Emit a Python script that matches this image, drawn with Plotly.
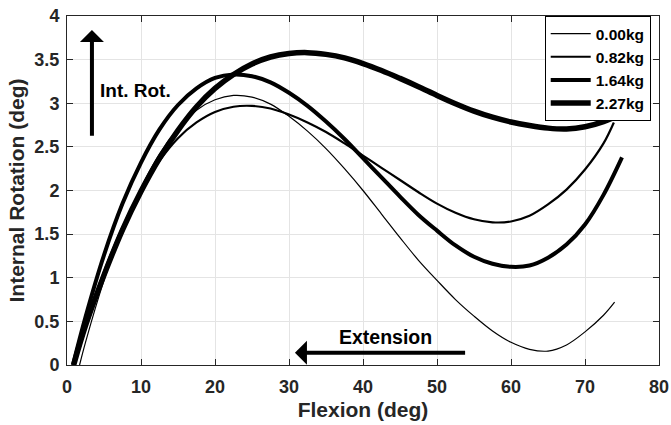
import plotly.graph_objects as go

# ---- data ----
x_000 = [1.7, 2.5, 5, 7.5, 10, 12.5, 15, 17.5, 20, 22.5, 25, 27.5, 30, 32.5, 35, 37.5, 40, 42.5, 45, 47.5, 50, 52.5, 55, 57.5, 60, 62.5, 65, 67.5, 70, 72.5, 74.0]
y_000 = [0.0, 0.26, 0.97, 1.56, 2.03, 2.42, 2.71, 2.92, 3.04, 3.09, 3.07, 2.99, 2.85, 2.68, 2.48, 2.25, 2.00, 1.73, 1.46, 1.20, 0.97, 0.75, 0.56, 0.39, 0.26, 0.18, 0.16, 0.23, 0.38, 0.57, 0.72]

x_082 = [0.9, 2.5, 5, 7.5, 10, 12.5, 15, 17.5, 20, 22.5, 25, 27.5, 30, 32.5, 35, 37.5, 40, 42.5, 45, 47.5, 50, 52.5, 55, 57.5, 60, 62.5, 65, 67.5, 70, 72.5, 73.9]
y_082 = [0.0, 0.46, 1.07, 1.58, 2.00, 2.34, 2.60, 2.78, 2.90, 2.96, 2.97, 2.94, 2.87, 2.78, 2.67, 2.54, 2.40, 2.26, 2.12, 1.98, 1.85, 1.745, 1.67, 1.635, 1.645, 1.71, 1.84, 2.01, 2.24, 2.54, 2.78]

x_164 = [0.8, 2.5, 5, 7.5, 10, 12.5, 15, 17.5, 20, 22.5, 25, 27.5, 30, 32.5, 35, 37.5, 40, 42.5, 45, 47.5, 50, 52.5, 55, 57.5, 60, 62.5, 65, 67.5, 70, 72.5, 75.0]
y_164 = [0.0, 0.55, 1.26, 1.85, 2.32, 2.70, 2.98, 3.17, 3.29, 3.33, 3.31, 3.24, 3.12, 2.97, 2.79, 2.59, 2.37, 2.15, 1.93, 1.72, 1.54, 1.37, 1.24, 1.16, 1.125, 1.14, 1.23, 1.38, 1.61, 1.95, 2.38]

x_227 = [0.9, 2.5, 5, 7.5, 10, 12.5, 15, 17.5, 20, 22.5, 25, 27.5, 30, 32.5, 35, 37.5, 40, 42.5, 45, 47.5, 50, 52.5, 55, 57.5, 60, 62.5, 65, 67.5, 70, 72.5, 75.6]
y_227 = [0.0, 0.45, 1.03, 1.55, 1.99, 2.37, 2.69, 2.96, 3.17, 3.33, 3.45, 3.53, 3.57, 3.58, 3.56, 3.52, 3.455, 3.375, 3.285, 3.19, 3.09, 2.995, 2.91, 2.84, 2.785, 2.745, 2.715, 2.705, 2.73, 2.79, 2.90]

series_names = ["0.00kg", "0.82kg", "1.64kg", "2.27kg"]
series_x = [x_000, x_082, x_164, x_227]
series_y = [y_000, y_082, y_164, y_227]
line_widths = [1.2, 2.2, 4, 5.5]

x_ticks = [0, 10, 20, 30, 40, 50, 60, 70, 80]
y_ticks = [0, 0.5, 1, 1.5, 2, 2.5, 3, 3.5, 4]
y_tick_text = ["0", "0.5", "1", "1.5", "2", "2.5", "3", "3.5", "4"]

FONT = "Liberation Sans, Arial, sans-serif"
AX = "#262626"

fig = go.Figure()
for name, xs, ys, w in zip(series_names, series_x, series_y, line_widths):
    fig.add_trace(go.Scatter(x=xs, y=ys, mode="lines", name=name,
                             line=dict(color="black", width=w, shape="spline", smoothing=1)))

axis_common = dict(showline=True, linecolor=AX, linewidth=1, mirror="ticks",
                   ticks="inside", ticklen=6, tickcolor=AX, tickwidth=1,
                   showgrid=True, gridcolor="#e4e4e4", gridwidth=1, zeroline=False,
                   automargin=False,
                   tickfont=dict(family=FONT, size=18, color=AX, weight="bold"))

fig.update_xaxes(range=[0, 80], tickvals=x_ticks, ticklabelstandoff=5,
                 title=dict(text="Flexion (deg)", standoff=6,
                            font=dict(family=FONT, size=21, color=AX, weight="bold")),
                 **axis_common)
fig.update_yaxes(range=[0, 4], tickvals=y_ticks, ticktext=y_tick_text, ticklabelstandoff=3,
                 title=dict(text="Internal Rotation (deg)", standoff=4,
                            font=dict(family=FONT, size=21, color=AX, weight="bold")),
                 **axis_common)

# arrows and labels
fig.add_annotation(x=3.37, y=3.84, ax=3.37, ay=2.61, xref="x", yref="y", axref="x", ayref="y",
                   text="", showarrow=True, arrowhead=1, arrowsize=1, arrowwidth=4, arrowcolor="black")
fig.add_annotation(x=4.2, y=3.15, xref="x", yref="y", text="Int. Rot.", showarrow=False,
                   xanchor="left", yanchor="middle",
                   font=dict(family=FONT, size=19, color="black", weight="bold"))
fig.add_annotation(x=30.8, y=0.14, ax=54.0, ay=0.14, xref="x", yref="y", axref="x", ayref="y",
                   text="", showarrow=True, arrowhead=1, arrowsize=1, arrowwidth=4, arrowcolor="black")
fig.add_annotation(x=43.0, y=0.32, xref="x", yref="y", text="Extension", showarrow=False,
                   xanchor="center", yanchor="middle",
                   font=dict(family=FONT, size=19.5, color="black", weight="bold"))

fig.update_layout(
    width=671, height=425,
    margin=dict(l=67, r=12, t=16, b=60, autoexpand=False),
    paper_bgcolor="white", plot_bgcolor="white",
    legend=dict(x=0.986, y=1.0, xanchor="right", yanchor="top",
                bgcolor="white", bordercolor="black", borderwidth=1,
                font=dict(family=FONT, size=15.5, color="black", weight="bold"),
                tracegroupgap=0, itemwidth=40),
    showlegend=True,
)

fig.write_html("out.html")
